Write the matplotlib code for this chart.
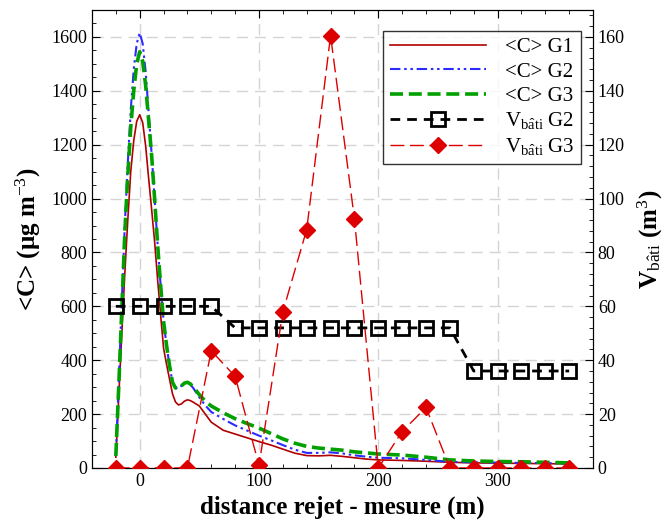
import matplotlib
matplotlib.use('Agg')
import matplotlib.pyplot as plt
from matplotlib.ticker import MultipleLocator

plt.rcParams['font.family'] = ['Liberation Serif', 'DejaVu Serif']
plt.rcParams['mathtext.fontset'] = 'custom'
plt.rcParams['mathtext.rm'] = 'Liberation Serif'
plt.rcParams['mathtext.it'] = 'Liberation Serif:italic'
plt.rcParams['mathtext.bf'] = 'Liberation Serif:bold'

# concentration profiles <C> (ug m-3)
x_c = [-20, -17.5, -15, -12.5, -10, -7.5, -5, -2.5, 0, 2.5, 5, 7.5, 10, 12.5, 15,
       17.5, 20, 22.5, 25, 27.5, 30, 32.5, 35, 37.5, 40, 42.5, 45, 50, 55, 60, 70,
       80, 90, 100, 110, 120, 130, 140, 150, 160, 170, 180, 190, 200, 220, 240, 260,
       280, 300, 320, 340, 360]
c_g1 = [40, 270, 500, 720, 920, 1100, 1215, 1287, 1311, 1282, 1195, 1075, 960, 840, 700,
        570, 445, 385, 330, 275, 245, 234, 238, 248, 253, 250, 244, 230, 200, 170, 140,
        126, 112, 98, 85, 70, 55, 46, 45, 47, 43, 38, 33, 30, 28, 25, 21,
        19, 18, 17, 16, 15]
c_g2 = [45, 330, 620, 900, 1130, 1330, 1480, 1575, 1615, 1575, 1470, 1320, 1165, 1000, 830,
        680, 545, 455, 380, 318, 297, 295, 305, 315, 318, 310, 296, 262, 232, 208, 182,
        158, 139, 120, 103, 85, 68, 56, 56, 58, 54, 47, 42, 38, 36, 30, 23,
        21, 20, 19, 18, 17]
c_g3 = [45, 310, 590, 870, 1085, 1265, 1400, 1500, 1545, 1510, 1420, 1290, 1160, 1000, 830,
        680, 545, 455, 380, 318, 297, 295, 305, 315, 318, 312, 300, 272, 248, 230, 205,
        183, 165, 148, 128, 108, 92, 80, 74, 70, 66, 60, 56, 52, 48, 40, 30,
        26, 24, 23, 21, 19]

# building volumes V_bati (m3)
x_v = [-20, 0, 20, 40, 60, 80, 100, 120, 140, 160, 180, 200, 220, 240, 260, 280, 300, 320, 340, 360]
v_g2 = [60, 60, 60, 60, 60, 52, 52, 52, 52, 52, 52, 52, 52, 52, 52, 36, 36, 36, 36, 36]
v_g3 = [0, 0, 0, 0, 43.5, 34, 1, 58, 88.5, 160.5, 92.5, 0, 13.5, 22.5, 0, 0, 0, 0, 0, 0]

fig = plt.figure(figsize=(6.69, 5.25), dpi=100)
ax = fig.add_axes([0.1375, 0.1086, 0.7489, 0.8724])
ax2 = ax.twinx()

l1, = ax.plot(x_c, c_g1, color='#b00000', lw=1.2, label='<C> G1')
l2, = ax.plot(x_c, c_g2, color='#2b2bff', lw=1.5, dashes=(5, 1.8, 1.2, 1.8, 1.2, 1.8), label='<C> G2')
l3, = ax.plot(x_c, c_g3, color='#00a000', lw=2.6, dashes=(3.6, 1.6), label='<C> G3')

l4, = ax2.plot(x_v, v_g2, color='black', lw=2, dashes=(3.5, 2.5), marker='s', ms=10,
               mfc='none', mec='black', mew=2, label='V$_{\\mathrm{b\\hat{a}ti}}$ G2')
l5, = ax2.plot(x_v, v_g3, color='#dd0000', lw=1, dashes=(10, 4), marker='D', ms=8.5,
               mfc='#dd0000', mec='#dd0000', label='V$_{\\mathrm{b\\hat{a}ti}}$ G3', zorder=5)

ax.set_xlim(-40, 380)
ax.set_ylim(0, 1700)
ax2.set_ylim(0, 170)

ax.xaxis.set_major_locator(MultipleLocator(100))
ax.xaxis.set_minor_locator(MultipleLocator(20))
ax.yaxis.set_major_locator(MultipleLocator(200))
ax.yaxis.set_minor_locator(MultipleLocator(50))
ax2.yaxis.set_major_locator(MultipleLocator(20))
ax2.yaxis.set_minor_locator(MultipleLocator(4))

ax.tick_params(which='both', direction='in', top=True, right=False, labelsize=13)
ax.tick_params(which='major', length=6)
ax.tick_params(which='minor', length=3)
ax2.tick_params(which='both', direction='in', labelsize=13)
ax2.tick_params(which='major', length=6)
ax2.tick_params(which='minor', length=3)

ax.grid(True, which='major', color='#d4d4d4', lw=1, dashes=(8, 5))
ax.set_axisbelow(True)

ax.set_xlabel('distance rejet - mesure (m)', fontsize=18, fontweight='bold', labelpad=4)
ax.set_ylabel('<C> ($\\mathbf{\\mu}$g m$^{-3}$)', fontsize=18, fontweight='bold', labelpad=6)
ax2.set_ylabel('V$_{\\mathrm{b\\hat{a}ti}}$ (m$^{3}$)', fontsize=18, fontweight='bold', labelpad=8)

leg = ax2.legend(handles=[l1, l2, l3, l4, l5], loc='upper right', bbox_to_anchor=(0.977, 0.955),
                 borderaxespad=0, fontsize=15, frameon=True, fancybox=False, edgecolor='black',
                 handlelength=4.6, handletextpad=0.9, borderpad=0.35, labelspacing=0.22)
leg.get_frame().set_linewidth(1)

fig.savefig('out.png', dpi=100)
